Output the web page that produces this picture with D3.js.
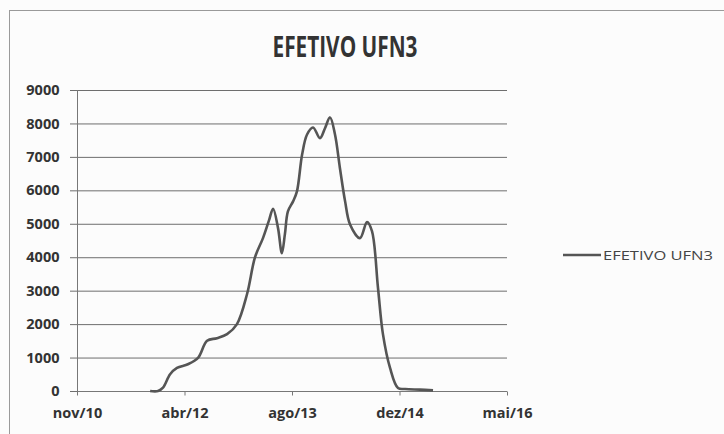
<!DOCTYPE html>
<html><head><meta charset="utf-8">
<script src="https://cdn.jsdelivr.net/npm/d3@7"></script>
<style>
html,body{margin:0;padding:0;background:#fcfcfc;}
svg{display:block;}
</style></head>
<body>
<script>
const title = "EFETIVO UFN3";
const seriesName = "EFETIVO UFN3";
const dates = ["2011-10-24","2011-11-30","2011-12-23","2012-01-25","2012-02-26","2012-04-17","2012-06-03","2012-07-15","2012-08-30","2012-10-16","2012-12-01","2013-01-17","2013-02-23","2013-04-01","2013-04-29","2013-05-18","2013-06-10","2013-06-28","2013-07-12","2013-07-26","2013-08-19","2013-09-06","2013-09-30","2013-10-23","2013-11-20","2013-12-22","2014-01-14","2014-02-07","2014-03-02","2014-03-25","2014-04-18","2014-05-11","2014-06-26","2014-07-29","2014-08-21","2014-09-18","2014-10-11","2014-11-13","2014-12-20","2015-01-22","2015-04-01","2015-06-01"];
const values = [0,0,100,500,690,800,990,1500,1580,1700,2000,2900,4000,4570,5100,5450,4870,4120,4690,5370,5670,5970,7070,7670,7880,7560,7850,8180,7670,6660,5670,4980,4570,5050,4780,3080,1700,690,90,60,40,20];
const xDomain = ["2010-11-18","2016-05-10"];
const xTickDates = ["2010-11-18","2012-04-01","2013-08-14","2014-12-27","2016-05-10"];
const xTickLabels = ["nov/10","abr/12","ago/13","dez/14","mai/16"];
const yTicks = [0,1000,2000,3000,4000,5000,6000,7000,8000,9000];

const W = 724, H = 434;
const parse = d3.timeParse("%Y-%m-%d");
const data = dates.map((d,i)=>({date:parse(d), value:values[i]}));

const svg = d3.select("body").append("svg").attr("width",W).attr("height",H);
svg.append("rect").attr("width",W).attr("height",H).attr("fill","#fcfcfc");
// chart border
svg.append("rect").attr("x",9.5).attr("y",10.5).attr("width",W+20).attr("height",H+20)
  .attr("fill","none").attr("stroke","#9a9a9a").attr("stroke-width",1);

const x = d3.scaleTime().domain(xDomain.map(parse)).range([77,507]);
const y = d3.scaleLinear().domain([0,9000]).range([391,90]);

// gridlines
svg.append("g").selectAll("line").data(yTicks).join("line")
  .attr("x1",70).attr("x2",507).attr("y1",d=>y(d)+0.5).attr("y2",d=>y(d)+0.5)
  .attr("stroke","#6e6e6e").attr("stroke-width",1);

// y axis
const yAxis = d3.axisLeft(y).tickValues(yTicks).tickSize(0).tickPadding(10).tickFormat(d3.format("d"));
const gy = svg.append("g").attr("transform","translate(77.5,0)").call(yAxis);
gy.select(".domain").attr("stroke","#777").attr("d","M0,90V391");
gy.selectAll("text").attr("font-family","'Liberation Sans Narrow','Open Sans',sans-serif").attr("font-size",14.5).attr("fill","#333").attr("font-weight","bold").attr("dx","-8");

// x axis
const xAxis = d3.axisBottom(x).tickValues(xTickDates.map(parse)).tickSize(4).tickPadding(12)
  .tickFormat((d,i)=>xTickLabels[i]);
const gx = svg.append("g").attr("transform","translate(0,391.5)").call(xAxis);
gx.select(".domain").attr("stroke","#777").attr("d","M77,0H507");
gx.selectAll(".tick line").attr("stroke","#777");
gx.selectAll("text").attr("font-family","'Liberation Sans Narrow','Open Sans',sans-serif").attr("font-size",14.5).attr("fill","#333").attr("font-weight","bold");

// line
const line = d3.line().x(d=>x(d.date)).y(d=>y(d.value)).curve(d3.curveCatmullRom.alpha(0.5));
svg.append("path").datum(data).attr("d",line).attr("fill","none")
  .attr("stroke","#555").attr("stroke-width",2.6).attr("stroke-linejoin","round");

// title
svg.append("text").attr("x",345).attr("y",57).attr("text-anchor","middle")
  .attr("font-family","'Open Sans',sans-serif").attr("font-weight","bold").attr("font-size",28)
  .attr("fill","#333").attr("textLength",145).attr("lengthAdjust","spacingAndGlyphs").text(title);

// legend
svg.append("line").attr("x1",563).attr("x2",601).attr("y1",255).attr("y2",255)
  .attr("stroke","#555").attr("stroke-width",2.6);
svg.append("text").attr("x",603).attr("y",260)
  .attr("font-family","'Liberation Sans Narrow','Open Sans',sans-serif").attr("font-size",13)
  .attr("fill","#444").attr("textLength",110).attr("lengthAdjust","spacingAndGlyphs").text(seriesName);
</script>
</body></html>
